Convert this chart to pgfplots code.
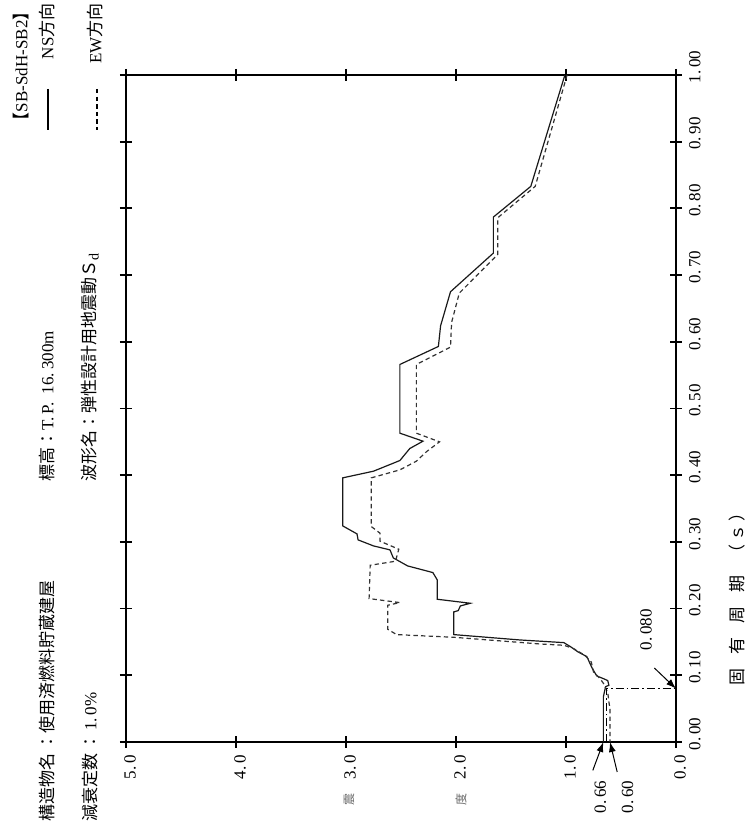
\documentclass[border=0pt]{standalone}
\usepackage{pgfplots}
\pgfplotsset{compat=1.18}
\usepackage{fontspec}
\setmainfont{Liberation Serif}
\newfontfamily\jp{Noto Sans CJK JP}
\usetikzlibrary{arrows.meta}
\pgfplotstableread{
a p
1.01 1.000
1.32 0.833
1.66 0.787
1.66 0.733
2.05 0.675
2.14 0.624
2.16 0.593
2.51 0.566
2.51 0.463
2.30 0.451
2.42 0.440
2.51 0.422
2.75 0.406
3.03 0.396
3.03 0.324
2.90 0.312
2.89 0.303
2.75 0.294
2.60 0.288
2.57 0.276
2.44 0.264
2.21 0.254
2.17 0.243
2.17 0.214
1.87 0.208
1.96 0.204
1.98 0.197
2.02 0.195
2.02 0.161
1.42 0.153
1.02 0.149
0.96 0.143
0.89 0.135
0.81 0.128
0.78 0.117
0.76 0.110
0.72 0.099
0.66 0.095
0.62 0.092
0.61 0.085
0.64 0.083
0.66 0.068
0.66 0.000
}\nsdata
\pgfplotstableread{
a p
0.99 1.000
1.28 0.833
1.62 0.786
1.62 0.731
1.97 0.673
2.04 0.629
2.05 0.592
2.36 0.566
2.36 0.463
2.15 0.450
2.27 0.435
2.36 0.421
2.51 0.408
2.77 0.396
2.77 0.323
2.69 0.313
2.69 0.301
2.52 0.289
2.55 0.271
2.78 0.265
2.79 0.215
2.51 0.209
2.62 0.205
2.62 0.169
2.54 0.161
2.02 0.157
1.24 0.147
1.02 0.145
0.93 0.140
0.83 0.130
0.77 0.120
0.75 0.105
0.69 0.095
0.66 0.088
0.62 0.074
0.61 0.060
0.60 0.050
0.60 0.000
}\ewdata
\pgfplotstableread{
a p
0.63 0.000
0.63 0.080
0.00 0.080
}\markdata
\begin{document}
\begin{tikzpicture}[x=1pt,y=1pt]
\def\tf{\fontsize{8.5}{10}\selectfont}
\begin{axis}[
  at={(63pt,48.5pt)}, anchor=south west,
  scale only axis, width=275pt, height=333.5pt,
  x dir=reverse, xmin=0, xmax=5, ymin=0, ymax=1,
  xtick={0,1,2,3,4,5},
  xticklabels={0.\,0,1.\,0,2.\,0,3.\,0,4.\,0,5.\,0},
  ytick={0,0.1,0.2,0.3,0.4,0.5,0.6,0.7,0.8,0.9,1.0},
  yticklabels={0.\,00,0.\,10,0.\,20,0.\,30,0.\,40,0.\,50,0.\,60,0.\,70,0.\,80,0.\,90,1.\,00},
  yticklabel pos=right,
  tick align=center,
  major tick length=6pt,
  xticklabel style={rotate=90, anchor=east, font=\tf, yshift=-2pt},
  yticklabel style={rotate=90, anchor=north, font=\tf, xshift=4pt},
  axis line style={line width=1pt},
  tick style={line width=0.9pt, black},
  clip=false,
]
\addplot[black!90, line width=0.6pt] table[x=a,y=p] {\nsdata};
\addplot[black!80, line width=0.6pt, dash pattern=on 2.2pt off 1.6pt] table[x=a,y=p] {\ewdata};
\addplot[black, line width=0.7pt, dash pattern=on 4pt off 1.5pt on 0.8pt off 1.5pt] table[x=a,y=p] {\markdata};
\draw[-{Latex[length=5pt,width=3.5pt]}, line width=0.5pt] ([xshift=-10.8pt,yshift=10.3pt]axis cs:0,0.08) -- (axis cs:0,0.08);
\node[rotate=90, font=\tf] at ([xshift=-15pt,yshift=29.5pt]axis cs:0,0.08) {0.\,080};
\draw[-{Latex[length=5pt,width=3.5pt]}, line width=0.5pt] ([xshift=-5.3pt,yshift=-14.2pt]axis cs:0.66,0) -- (axis cs:0.66,0);
\draw[-{Latex[length=5pt,width=3.5pt]}, line width=0.5pt] ([xshift=3.6pt,yshift=-15pt]axis cs:0.60,0) -- (axis cs:0.60,0);
\node[rotate=90, font=\tf] at ([xshift=-1.5pt,yshift=-27.5pt]axis cs:0.66,0) {0.\,66};
\node[rotate=90, font=\tf] at ([xshift=8.8pt,yshift=-27.5pt]axis cs:0.60,0) {0.\,60};
\end{axis}
% header texts
\node[rotate=90, anchor=west, font=\tf, inner sep=0pt] at (23.5,8.5) {{\jp 構造物名\,：使用済燃料貯蔵建屋}};
\node[rotate=90, anchor=west, font=\tf, inner sep=0pt] at (45,8.5) {{\jp 減衰定数\,：\,}1.\,0\%};
\node[rotate=90, anchor=west, font=\tf, inner sep=0pt] at (23.5,178.5) {{\jp 標高：}T.\,P.\ \ 16.\,300m};
\node[rotate=90, anchor=west, font=\tf, inner sep=0pt] at (45,178.5) {{\jp 波形名：弾性設計用地震動Ｓ}\raisebox{-0.4ex}{\scriptsize d}};
\node[rotate=90, anchor=east, font=\tf, inner sep=0pt] at (10.5,418) {{\jp 【}SB-SdH-SB2{\jp 】}};
\node[rotate=90, anchor=east, font=\tf, inner sep=0pt] at (23.5,418) {NS{\jp 方向}};
\node[rotate=90, anchor=east, font=\tf, inner sep=0pt] at (47.5,418) {EW{\jp 方向}};
\draw[black, line width=0.6pt] (24,375) -- (24,354.5);
\draw[black, line width=0.6pt, dash pattern=on 2.2pt off 1.6pt] (48.5,375) -- (48.5,354.5);
% axis labels
\node[rotate=90, font=\tf, inner sep=0pt] at (368.5,122) {\jp 固\hspace{7pt}有\hspace{7pt}周\hspace{7pt}期\hspace{7pt}（\,ｓ\,）};
\node[rotate=90, font=\fontsize{6}{7}\selectfont, text=black!60, inner sep=0pt] at (174.5,19.5) {\jp 震};
\node[rotate=90, font=\fontsize{6}{7}\selectfont, text=black!60, inner sep=0pt] at (230.5,19.5) {\jp 度};
\pgfresetboundingbox
\path[use as bounding box] (0,0) rectangle (375.5,419.5);
\end{tikzpicture}
\end{document}
